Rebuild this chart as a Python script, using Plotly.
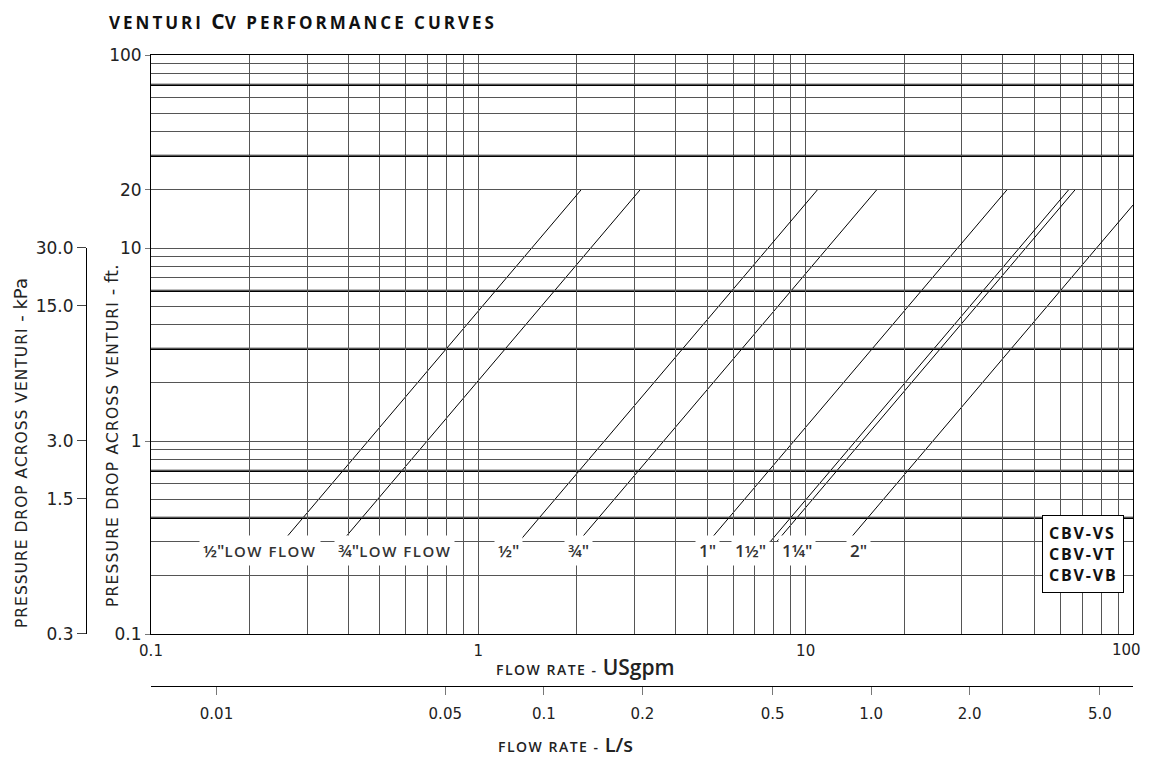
import math
import plotly.graph_objects as go

# ---------------- data ----------------
line_names = ['½" LOW FLOW', '¾" LOW FLOW', '½"', '¾"', '1"', '1½"', '1¼"', '2"']
cv_values = [0.70, 1.06, 3.69, 5.60, 14.0, 21.6, 22.6, 37.2]   # USgpm at 1 psi
dp_min_ft = 0.3
dp_max_ft = 20.0
flow_max_gpm = 100.0

FT_PER_PSI = 2.31
KPA_PER_FT = 2.989
LPS_PER_GPM = 0.0630902

ft_tickvals = [0.1, 1, 10, 20, 100]
ft_ticktext = ['0.1', '1', '10', '20', '100']
ft_minor_grid = [0.2, 0.3, 0.4, 0.5, 0.6, 0.7, 0.8, 0.9,
                 2, 3, 4, 5, 6, 7, 8, 9,
                 30, 40, 50, 60, 70, 80, 90]
ft_heavy_grid = [0.4, 0.7, 3, 6, 30, 70]

kpa_tickvals = [0.3, 1.5, 3.0, 15.0, 30.0]
kpa_ticktext = ['0.3', '1.5', '3.0', '15.0', '30.0']

gpm_tickvals = [0.1, 1, 10, 100]
gpm_ticktext = ['0.1', '1', '10', '100']
gpm_minor_grid = [k * m for m in (0.1, 1, 10) for k in (2, 3, 4, 5, 6, 7, 8, 9)]

lps_tickvals = [0.01, 0.05, 0.1, 0.2, 0.5, 1.0, 2.0, 5.0]
lps_ticktext = ['0.01', '0.05', '0.1', '0.2', '0.5', '1.0', '2.0', '5.0']

model_names = ['CBV-VS', 'CBV-VT', 'CBV-VB']

# label anchor flows (text placement, USgpm)
label_flow_gpm = [0.215, 0.553, 1.24, 2.02, 5.03, 6.76, 9.41, 14.55]

# ---------------- layout geometry ----------------
OFF = 8                      # page body margin
W, H = 1153 - 2 * OFF, 759 - OFF
ML, MT, MB = 86 - OFF, 55 - OFF, 60
MR = W - (1133 - OFF)
PW, PH = W - ML - MR, H - MT - MB


def px(x):
    return (x - OFF - ML) / PW


def py(y):
    return (H - MB - (y - OFF)) / PH


y_dom0 = py(634)
x_dom0 = px(151)
ft_lo, ft_hi = math.log10(0.1), math.log10(100)


def y_of_ft(f):
    return y_dom0 + (1 - y_dom0) * (math.log10(f) - ft_lo) / (ft_hi - ft_lo)


kpa_lo = min(kpa_tickvals) / KPA_PER_FT * 0.999   # in ft
kpa_hi = max(kpa_tickvals) / KPA_PER_FT * 1.001
kpa_lo = max(kpa_lo, 0.1)
y2_domain = [y_of_ft(kpa_lo), y_of_ft(kpa_hi)]
y2_range = [math.log10(kpa_lo * KPA_PER_FT), math.log10(kpa_hi * KPA_PER_FT)]

AX_FONT = 'DejaVu Sans'
LBL_FONT = 'Open Sans'

fig = go.Figure()

# heavy horizontal grid lines
for v in ft_heavy_grid:
    fig.add_trace(go.Scatter(x=[gpm_tickvals[0], gpm_tickvals[-1]], y=[v, v], mode='lines',
                             line=dict(color='black', width=2.2), showlegend=False,
                             hoverinfo='skip'))

# Cv curves  (dp_ft = 2.31 * (Q/Cv)^2)
for name, cv in zip(line_names, cv_values):
    q_lo = cv * math.sqrt(dp_min_ft / FT_PER_PSI)
    q_hi = min(cv * math.sqrt(dp_max_ft / FT_PER_PSI), flow_max_gpm)
    dp_hi = FT_PER_PSI * (q_hi / cv) ** 2
    fig.add_trace(go.Scatter(x=[q_lo, q_hi], y=[dp_min_ft, dp_hi], mode='lines',
                             line=dict(color='black', width=1), name=name,
                             showlegend=False, hoverinfo='skip'))

# invisible carriers so the secondary (kPa, L/s) axes are drawn
fig.add_trace(go.Scatter(x=[lps_tickvals[2]], y=[1], xaxis='x2', yaxis='y', mode='markers',
                         marker=dict(opacity=0), showlegend=False, hoverinfo='skip'))
fig.add_trace(go.Scatter(x=[1], y=[kpa_tickvals[2]], xaxis='x', yaxis='y2', mode='markers',
                         marker=dict(opacity=0), showlegend=False, hoverinfo='skip'))

annotations = []

# curve labels
for name, qx in zip(line_names, label_flow_gpm):
    parts = name.split(' ', 1)
    txt = parts[0]
    if len(parts) > 1:
        txt += '<span style="font-size:15px;letter-spacing:1.5px">' + parts[1] + '</span>'
    annotations.append(dict(x=math.log10(qx), y=math.log10(dp_min_ft), xref='x', yref='y',
                            text=txt, showarrow=False, yshift=-9,
                            font=dict(family=LBL_FONT, size=17, color='#333', weight=600),
                            bgcolor='white', borderpad=3))

# last gpm tick label (kept inside the page edge)
annotations.append(dict(x=math.log10(gpm_tickvals[-1]), y=py(650), xref='x', yref='paper',
                        xanchor='right', yanchor='middle', xshift=10, showarrow=False,
                        text=gpm_ticktext[-1],
                        font=dict(family=AX_FONT, size=15, color='#222')))

# model box
annotations.append(dict(x=px(1124), y=py(593), xref='paper', yref='paper',
                        xanchor='right', yanchor='bottom', align='left',
                        text='<br>'.join('<span style="letter-spacing:1.8px">%s</span>' % m
                                         for m in model_names),
                        showarrow=False, bgcolor='white', bordercolor='black',
                        borderwidth=1, borderpad=6,
                        font=dict(family=LBL_FONT, size=16, color='#111', weight='bold')))

# title
annotations.append(dict(x=px(107), y=py(21), xref='paper', yref='paper',
                        xanchor='left', yanchor='middle', showarrow=False,
                        text='<span style="letter-spacing:3px">VENTURI </span>'
                             '<span style="font-size:21px">C</span>'
                             '<span style="letter-spacing:3px">V PERFORMANCE CURVES</span>',
                        font=dict(family=LBL_FONT, size=17, color='#111', weight='bold')))

# axis titles
annotations.append(dict(x=px(111), y=py(436), xref='paper', yref='paper', textangle=-90,
                        showarrow=False, xanchor='center', yanchor='middle',
                        text='<span style="letter-spacing:1.2px">PRESSURE DROP ACROSS VENTURI</span>'
                             '<span style="font-size:18px"> - ft.</span>',
                        font=dict(family=AX_FONT, size=15.5, color='#222')))
annotations.append(dict(x=px(20), y=py(453), xref='paper', yref='paper', textangle=-90,
                        showarrow=False, xanchor='center', yanchor='middle',
                        text='<span style="letter-spacing:1px">PRESSURE DROP ACROSS VENTURI</span>'
                             '<span style="font-size:18px"> - kPa</span>',
                        font=dict(family=AX_FONT, size=15.5, color='#222')))
annotations.append(dict(x=px(585), y=py(667), xref='paper', yref='paper',
                        showarrow=False, xanchor='center', yanchor='middle',
                        text='<span style="letter-spacing:1.5px">FLOW RATE - </span>'
                             '<span style="font-size:21px">USgpm</span>',
                        font=dict(family=LBL_FONT, size=14, color='#222', weight=600)))
annotations.append(dict(x=px(565), y=py(744), xref='paper', yref='paper',
                        showarrow=False, xanchor='center', yanchor='middle',
                        text='<span style="letter-spacing:1.5px">FLOW RATE - </span>'
                             '<span style="font-size:20px">L/s</span>',
                        font=dict(family=LBL_FONT, size=14, color='#222', weight=600)))

grid_col = '#555'

fig.update_layout(
    width=W, height=H,
    margin=dict(l=ML, r=MR, t=MT, b=MB),
    paper_bgcolor='white', plot_bgcolor='rgba(0,0,0,0)',
    showlegend=False,
    annotations=annotations,
    xaxis=dict(type='log', range=[math.log10(0.1), math.log10(100)], domain=[x_dom0, 1],
               anchor='y', tickvals=gpm_tickvals[:-1], ticktext=gpm_ticktext[:-1], ticks='',
               showgrid=True, gridcolor=grid_col, gridwidth=1,
               minor=dict(tickvals=gpm_minor_grid, showgrid=True, gridcolor=grid_col,
                          gridwidth=1, ticks=''),
               showline=True, linecolor='black', linewidth=1, mirror=True,
               ticklabelstandoff=3,
               tickfont=dict(family=AX_FONT, size=15, color='#222'), zeroline=False),
    yaxis=dict(type='log', range=[ft_lo, ft_hi], domain=[y_dom0, 1], anchor='x',
               tickvals=ft_tickvals, ticktext=ft_ticktext, ticks='outside', ticklen=5,
               tickcolor='#777',
               showgrid=True, gridcolor=grid_col, gridwidth=1,
               minor=dict(tickvals=ft_minor_grid, showgrid=True, gridcolor=grid_col,
                          gridwidth=1, ticks=''),
               showline=True, linecolor='black', linewidth=1, mirror=True,
               tickfont=dict(family=AX_FONT, size=17, color='#222'), zeroline=False),
    xaxis2=dict(type='log', range=[math.log10(0.1 * LPS_PER_GPM), math.log10(100 * LPS_PER_GPM)],
                domain=[x_dom0, 1], anchor='free', position=py(686),
                tickvals=lps_tickvals, ticktext=lps_ticktext, ticks='outside', ticklen=8,
                tickcolor='#777', showgrid=False, showline=True, linecolor='black',
                linewidth=1, ticklabelstandoff=6,
                tickfont=dict(family=AX_FONT, size=15, color='#222'), zeroline=False),
    yaxis2=dict(type='log', range=y2_range,
                domain=y2_domain, anchor='free', position=0, side='left',
                tickvals=kpa_tickvals, ticktext=kpa_ticktext, ticks='outside', ticklen=9,
                tickcolor='#444', showgrid=False, showline=True, linecolor='black',
                linewidth=1, tickfont=dict(family=AX_FONT, size=17, color='#222'),
                zeroline=False),
)

fig.write_html("out.html")
